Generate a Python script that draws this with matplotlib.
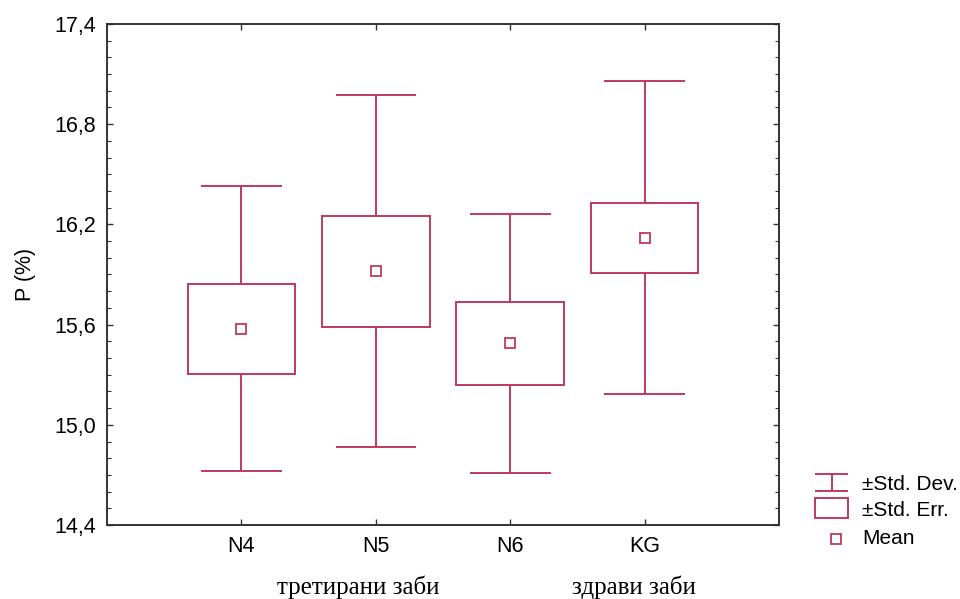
import numpy as np
import matplotlib.pyplot as plt
from matplotlib.patches import Rectangle
from matplotlib.ticker import MultipleLocator, FuncFormatter

# values
groups = ['N4', 'N5', 'N6', 'KG']
means = [15.575, 15.92, 15.487, 16.12]
std_err = [0.268, 0.333, 0.247, 0.209]
std_dev = [0.853, 1.053, 0.777, 0.938]
y_ticks = [14.4, 15.0, 15.6, 16.2, 16.8, 17.4]
notes = ['третирани заби', 'здрави заби']
note_pos = [1.87, 3.92]
legend_labels = ['±Std. Dev.', '±Std. Err.', 'Mean']

col = '#c0395f'
lw = 1.4
plt.rcParams['font.family'] = ['Liberation Sans', 'DejaVu Sans']

fig = plt.figure(figsize=(9.6, 5.99), dpi=100)
ax = fig.add_axes([0.1115, 0.1235, 0.7, 0.8365])

x = np.arange(1, len(groups) + 1)
for xi, m, se, sd in zip(x, means, std_err, std_dev):
    ax.add_patch(Rectangle((xi - 0.4, m - se), 0.8, 2 * se, fill=False, ec=col, lw=lw))
    ax.vlines(xi, m + se, m + sd, color=col, lw=lw)
    ax.vlines(xi, m - sd, m - se, color=col, lw=lw)
    ax.hlines([m + sd, m - sd], xi - 0.3, xi + 0.3, color=col, lw=lw)
ax.plot(x, means, 's', mfc='none', mec=col, ms=6.5, mew=1.3, ls='none')

ax.set_xlim(0, 5)
ax.set_ylim(14.4, 17.4)
ax.set_xticks(x)
ax.set_xticklabels(groups)
ax.set_yticks(y_ticks)
ax.yaxis.set_minor_locator(MultipleLocator(0.1))
ax.yaxis.set_major_formatter(FuncFormatter(lambda v, p: f'{v:.1f}'.replace('.', ',')))
ax.tick_params(direction='in', top=True, right=True, labelsize=15.5, pad=8,
               length=4, width=1, color='#333333')
ax.tick_params(which='minor', direction='in', right=True, length=3, width=0.8, color='#333333')
for s in ax.spines.values():
    s.set_linewidth(1.4)
    s.set_color('#333333')
ax.set_ylabel('P (%)', fontsize=15.5, labelpad=13)

for t, xp in zip(notes, note_pos):
    ax.text(xp, -0.125, t, transform=ax.get_xaxis_transform(), ha='center', va='center',
            fontsize=18, family='Liberation Serif')

# legend drawn by hand in pixel units
lg = fig.add_axes([813 / 960, 1 - 556 / 599, 147 / 960, 90 / 599])
lg.set_xlim(0, 147)
lg.set_ylim(90, 0)
lg.axis('off')
lg.hlines([8, 25], 2, 35, color=col, lw=lw)
lg.vlines(18.5, 8, 25, color=col, lw=lw)
lg.add_patch(Rectangle((2, 32), 33, 20, fill=False, ec=col, lw=lw))
lg.plot([23], [73], 's', mfc='none', mec=col, ms=6.5, mew=1.3)
for yy, t in zip([18, 44, 73], legend_labels):
    lg.text(49, yy, t, fontsize=15, va='center', ha='left')

fig.savefig('out.png', dpi=100)
